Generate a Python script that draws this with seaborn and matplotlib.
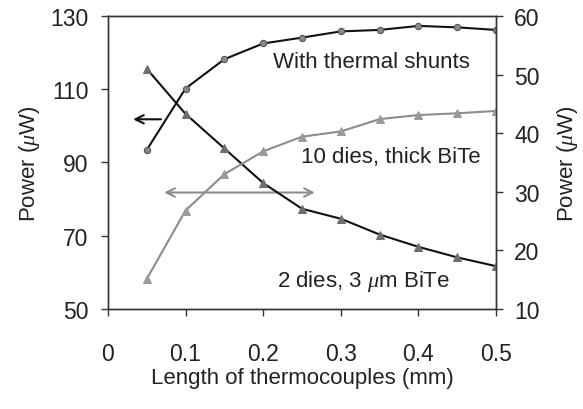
import numpy as np
import pandas as pd
import seaborn as sns
import matplotlib
matplotlib.use("Agg")
import matplotlib.pyplot as plt

length_mm = [0.05, 0.10, 0.15, 0.20, 0.25, 0.30, 0.35, 0.40, 0.45, 0.50]
shunts_uw = [93.4, 110.2, 118.2, 122.5, 124.1, 125.8, 126.2, 127.3, 126.9, 126.2]
two_dies_uw = [51.0, 43.3, 37.4, 31.5, 27.1, 25.4, 22.7, 20.6, 18.8, 17.3]
ten_dies_uw = [15.1, 26.8, 33.0, 36.9, 39.4, 40.3, 42.4, 43.1, 43.4, 43.8]

df = pd.DataFrame({
    "length": length_mm,
    "shunts": shunts_uw,
    "two": two_dies_uw,
    "ten": ten_dies_uw,
})

sns.set_style("ticks")
plt.rcParams["font.family"] = ["Liberation Sans", "DejaVu Sans"]
plt.rcParams["mathtext.fontset"] = "custom"
plt.rcParams["mathtext.it"] = "Liberation Serif:italic"
plt.rcParams["mathtext.rm"] = "Liberation Serif"

fig = plt.figure(figsize=(5.83, 4.10), dpi=100)
ax = fig.add_axes([0.185, 0.244, 0.666, 0.7145])
ax2 = ax.twinx()

sns.lineplot(data=df, x="length", y="shunts", ax=ax, color="#111111", lw=1.5,
             marker="o", markersize=4.5, markerfacecolor="#8a8a8a",
             markeredgecolor="#555555", markeredgewidth=0.8)
sns.lineplot(data=df, x="length", y="two", ax=ax2, color="#111111", lw=1.5,
             marker="^", markersize=5.5, markerfacecolor="#6e6e6e",
             markeredgecolor="#6e6e6e")
sns.lineplot(data=df, x="length", y="ten", ax=ax2, color="#8c8c8c", lw=1.5,
             marker="^", markersize=5.5, markerfacecolor="#9a9a9a",
             markeredgecolor="#9a9a9a")

ax.set_xlim(0, 0.5)
ax.set_ylim(50, 130)
ax2.set_ylim(10, 60)
ax.set_xticks([0, 0.1, 0.2, 0.3, 0.4, 0.5])
ax.set_xticklabels(["0", "0.1", "0.2", "0.3", "0.4", "0.5"])
ax.set_yticks([50, 70, 90, 110, 130])
ax2.set_yticks([10, 20, 30, 40, 50, 60])

for a in (ax, ax2):
    a.tick_params(labelsize=16.5, length=5, width=1, color="#333333",
                  labelcolor="#222222", pad=9)
    for s in a.spines.values():
        s.set_color("#333333")
        s.set_linewidth(1)
        s.set_visible(True)
ax.tick_params(axis="x", pad=19)
ax2.tick_params(axis="y", pad=8)

ax.set_xlabel("Length of thermocouples (mm)", fontsize=16, color="#222222", labelpad=1)
ax.set_ylabel(r"Power ($\mu$W)", fontsize=16, color="#222222", labelpad=6)
ax2.set_ylabel(r"Power ($\mu$W)", fontsize=16, color="#222222", labelpad=11)

ax.text(0.340, 116.0, "With thermal shunts", fontsize=16, ha="center", va="baseline", color="#222222")
ax.text(0.365, 90.0, "10 dies, thick BiTe", fontsize=16, ha="center", va="baseline", color="#222222")
ax.text(0.329, 56.2, r"2 dies, 3 $\mu$m BiTe", fontsize=16, ha="center", va="baseline", color="#222222")

ax.annotate("", xy=(0.029, 101.8), xytext=(0.072, 101.8),
            arrowprops=dict(arrowstyle="->,head_length=0.6,head_width=0.3", color="#111111", lw=1.5))
ax.annotate("", xy=(0.069, 81.8), xytext=(0.27, 81.8),
            arrowprops=dict(arrowstyle="<->,head_length=0.6,head_width=0.3", color="#8c8c8c", lw=1.5))

fig.savefig("out.png", dpi=100)
